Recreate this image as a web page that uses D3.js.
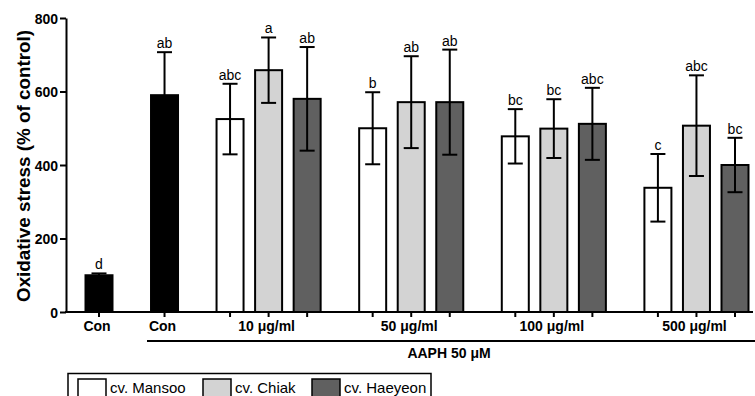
<!DOCTYPE html>
<html lang="en">
<head>
    <meta charset="UTF-8">
    <script src="https://cdnjs.cloudflare.com/ajax/libs/d3/7.8.5/d3.min.js"></script>
    <title>Oxidative stress</title>
    <style>
        body {
            margin: 0;
            background: #ffffff;
        }

        svg {
            display: block;
            font-family: "Liberation Sans", Arial, sans-serif;
        }

        .axis-label {
            font-size: 14px;
            font-weight: 700;
            fill: #000000;
        }

        .tick-label {
            font-size: 14px;
            font-weight: 700;
            fill: #000000;
        }

        .letter {
            font-size: 14px;
            fill: #000000;
        }

        .legend-text {
            font-size: 15px;
            fill: #000000;
        }
    </style>
</head>
<body>
    <script>
        // Контроли
        const controlLabels = ['Con', 'Con'];
        const controlMeans = [100, 590];
        const controlErrors = [5, 117];
        const controlLetters = ['d', 'ab'];

        // Дозы и сорта
        const doses = ['10 μg/ml', '50 μg/ml', '100 μg/ml', '500 μg/ml'];
        const cultivars = ['cv. Mansoo', 'cv. Chiak', 'cv. Haeyeon'];
        const cultivarColors = ['#ffffff', '#d3d3d3', '#606060'];

        const mansooMeans = [525, 500, 478, 338];
        const mansooErrors = [96, 98, 74, 92];
        const mansooLetters = ['abc', 'b', 'bc', 'c'];

        const chiakMeans = [658, 571, 499, 507];
        const chiakErrors = [89, 125, 80, 137];
        const chiakLetters = ['a', 'ab', 'bc', 'abc'];

        const haeyeonMeans = [580, 571, 512, 400];
        const haeyeonErrors = [141, 143, 98, 74];
        const haeyeonLetters = ['ab', 'ab', 'abc', 'bc'];

        const yTicks = [0, 200, 400, 600, 800];
        const yTitle = 'Oxidative stress (% of control)';
        const groupTitle = 'AAPH 50 μM';

        const width = 755;
        const height = 396;
        const marginTop = 18;
        const marginLeft = 66;
        const axisBottom = 312;
        const axisRight = 753;

        const barWidth = 27;
        const capWidth = 15;
        const clusterGap = 1.7; // расстояние между кластерами в единицах слота

        const svg = d3.select('body')
            .append('svg')
            .attr('width', width)
            .attr('height', height);

        const y = d3.scaleLinear()
            .domain([0, 800])
            .range([axisBottom, marginTop]);

        // позиция слота: контроли, затем группы по три столбца
        const x = d3.scaleLinear()
            .domain([0, 2 * clusterGap + 3 * (2 + clusterGap) + 2])
            .range([99, 735]);

        const bars = [];
        controlMeans.forEach(function(v, i) {
            bars.push({ slot: i * clusterGap, value: v, error: controlErrors[i], letter: controlLetters[i], color: '#000000' });
        });
        const seriesMeans = [mansooMeans, chiakMeans, haeyeonMeans];
        const seriesErrors = [mansooErrors, chiakErrors, haeyeonErrors];
        const seriesLetters = [mansooLetters, chiakLetters, haeyeonLetters];
        doses.forEach(function(dose, g) {
            cultivars.forEach(function(c, j) {
                bars.push({
                    slot: 2 * clusterGap + g * (2 + clusterGap) + j,
                    value: seriesMeans[j][g],
                    error: seriesErrors[j][g],
                    letter: seriesLetters[j][g],
                    color: cultivarColors[j]
                });
            });
        });

        // Столбцы
        svg.selectAll('.bar')
            .data(bars)
            .enter()
            .append('rect')
            .attr('class', 'bar')
            .attr('x', function(d) { return x(d.slot) - barWidth / 2 })
            .attr('y', function(d) { return y(d.value) })
            .attr('width', barWidth)
            .attr('height', function(d) { return y(0) - y(d.value) })
            .attr('fill', function(d) { return d.color })
            .attr('stroke', '#000000')
            .attr('stroke-width', 2);

        // Планки погрешностей
        const err = svg.selectAll('.err')
            .data(bars)
            .enter()
            .append('g')
            .attr('class', 'err')
            .attr('stroke', '#000000')
            .attr('stroke-width', 2);

        err.append('line')
            .attr('x1', function(d) { return x(d.slot) })
            .attr('x2', function(d) { return x(d.slot) })
            .attr('y1', function(d) { return y(d.value - d.error) })
            .attr('y2', function(d) { return y(d.value + d.error) });

        err.append('line')
            .attr('x1', function(d) { return x(d.slot) - capWidth / 2 })
            .attr('x2', function(d) { return x(d.slot) + capWidth / 2 })
            .attr('y1', function(d) { return y(d.value + d.error) })
            .attr('y2', function(d) { return y(d.value + d.error) });

        err.append('line')
            .attr('x1', function(d) { return x(d.slot) - capWidth / 2 })
            .attr('x2', function(d) { return x(d.slot) + capWidth / 2 })
            .attr('y1', function(d) { return y(d.value - d.error) })
            .attr('y2', function(d) { return y(d.value - d.error) });

        // Буквы значимости
        svg.selectAll('.letter')
            .data(bars)
            .enter()
            .append('text')
            .attr('class', 'letter')
            .attr('text-anchor', 'middle')
            .attr('x', function(d) { return x(d.slot) })
            .attr('y', function(d) { return y(d.value + d.error) - 4 })
            .text(function(d) { return d.letter });

        // Ось Y
        const yAxis = svg.append('g')
            .attr('transform', 'translate(' + marginLeft + ',0)')
            .call(d3.axisLeft(y).tickValues(yTicks).tickSize(6).tickSizeOuter(0).tickPadding(2));
        yAxis.select('.domain').attr('stroke-width', 2);
        yAxis.selectAll('.tick line').attr('stroke-width', 2);
        yAxis.selectAll('.tick text').attr('class', 'tick-label').attr('dy', '0.36em');

        // Ось X
        svg.append('line')
            .attr('x1', marginLeft - 1)
            .attr('x2', axisRight)
            .attr('y1', axisBottom)
            .attr('y2', axisBottom)
            .attr('stroke', '#000000')
            .attr('stroke-width', 2);

        svg.selectAll('.xtick')
            .data(bars)
            .enter()
            .append('line')
            .attr('class', 'xtick')
            .attr('x1', function(d) { return x(d.slot) })
            .attr('x2', function(d) { return x(d.slot) })
            .attr('y1', axisBottom)
            .attr('y2', axisBottom + 5)
            .attr('stroke', '#000000')
            .attr('stroke-width', 2);

        const xLabels = controlLabels.map(function(l, i) {
            return { text: l, slot: i * clusterGap };
        }).concat(doses.map(function(d, g) {
            return { text: d, slot: 2 * clusterGap + g * (2 + clusterGap) + 1 };
        }));

        svg.selectAll('.xlabel')
            .data(xLabels)
            .enter()
            .append('text')
            .attr('class', 'axis-label')
            .attr('text-anchor', 'middle')
            .attr('x', function(d) { return x(d.slot) - 2 })
            .attr('y', 331)
            .text(function(d) { return d.text });

        // Линия AAPH
        svg.append('line')
            .attr('x1', 147)
            .attr('x2', width)
            .attr('y1', 341)
            .attr('y2', 341)
            .attr('stroke', '#000000')
            .attr('stroke-width', 2);

        svg.append('text')
            .attr('class', 'axis-label')
            .attr('text-anchor', 'middle')
            .attr('x', 449)
            .attr('y', 358)
            .text(groupTitle);

        // Подпись оси Y
        svg.append('text')
            .attr('class', 'axis-label')
            .attr('text-anchor', 'middle')
            .attr('transform', 'translate(30,166) rotate(-90)')
            .style('font-size', '19px')
            .attr('textLength', 272)
            .attr('lengthAdjust', 'spacingAndGlyphs')
            .text(yTitle);

        // Легенда
        svg.append('rect')
            .attr('x', 68)
            .attr('y', 373.5)
            .attr('width', 363)
            .attr('height', 40)
            .attr('fill', 'none')
            .attr('stroke', '#000000')
            .attr('stroke-width', 1.5);

        const legendX = [78, 203, 312];
        const legend = svg.selectAll('.legend')
            .data(cultivars)
            .enter()
            .append('g')
            .attr('class', 'legend')
            .attr('transform', function(d, i) { return 'translate(' + legendX[i] + ',379)' });

        legend.append('rect')
            .attr('width', 28)
            .attr('height', 24)
            .attr('fill', function(d, i) { return cultivarColors[i] })
            .attr('stroke', '#000000')
            .attr('stroke-width', 1.5);

        legend.append('text')
            .attr('class', 'legend-text')
            .attr('x', 32)
            .attr('y', 14)
            .text(function(d) { return d });
    </script>
</body>
</html>
